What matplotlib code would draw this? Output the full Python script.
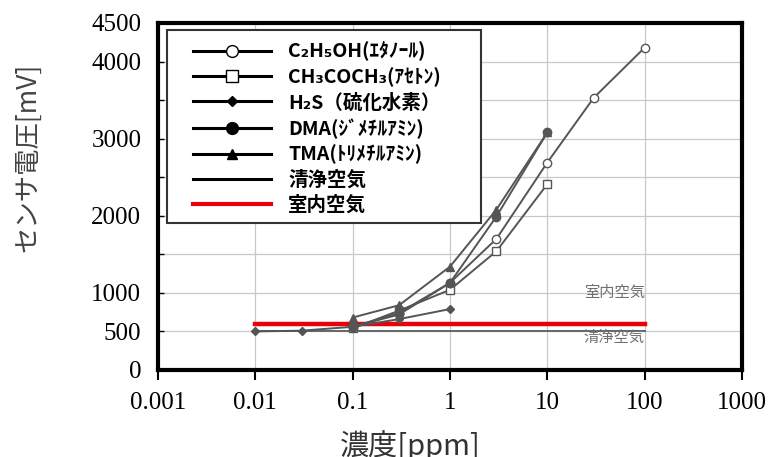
import matplotlib
matplotlib.use("Agg")
import matplotlib.pyplot as plt
from matplotlib.lines import Line2D
from matplotlib.patches import Rectangle

# ── Data ───────────────────────────────────────────────────────
ethanol_x = [0.1, 0.3, 1, 3, 10, 30, 100]
ethanol_y = [560, 720, 1130, 1700, 2690, 3530, 4180]

acetone_x = [0.1, 0.3, 1, 3, 10]
acetone_y = [540, 770, 1040, 1540, 2410]

h2s_x = [0.01, 0.03, 0.1, 0.3, 1]
h2s_y = [500, 510, 560, 660, 790]

dma_x = [0.1, 0.3, 1, 3, 10]
dma_y = [560, 740, 1130, 1990, 3080]

tma_x = [0.1, 0.3, 1, 3, 10]
tma_y = [680, 840, 1340, 2080, 3080]

air_x = [0.01, 100]
clean_air_y = [500, 500]
room_air_y = [600, 600]

labels = ["C₂H₅OH(ｴﾀﾉｰﾙ)", "CH₃COCH₃(ｱｾﾄﾝ)", "H₂S（硫化水素）",
          "DMA(ｼﾞﾒﾁﾙｱﾐﾝ)", "TMA(ﾄﾘﾒﾁﾙｱﾐﾝ)", "清浄空気", "室内空気"]

x_ticks = [0.001, 0.01, 0.1, 1, 10, 100, 1000]
x_ticklabels = ["0.001", "0.01", "0.1", "1", "10", "100", "1000"]
y_ticks = [0, 500, 1000, 2000, 3000, 4000, 4500]
y_minor = [1500, 2500, 3500]

JP = ["Noto Sans CJK JP", "DejaVu Sans"]
SERIF = "Liberation Serif"
GRAY = "#555555"
RED = "#e8000b"

fig = plt.figure(figsize=(7.74, 4.57), dpi=100)
ax = fig.add_axes([0.2041, 0.1904, 0.7545, 0.7593])

# ── Series ─────────────────────────────────────────────────────
ax.plot(air_x, clean_air_y, color="#666666", lw=1.4, zorder=2)
ax.plot(air_x, room_air_y, color=RED, lw=3.2, zorder=3)
ax.plot(h2s_x, h2s_y, color=GRAY, lw=1.4, marker="D", ms=4.5,
        mfc=GRAY, mec=GRAY, zorder=4)
ax.plot(acetone_x, acetone_y, color=GRAY, lw=1.4, marker="s", ms=6,
        mfc="white", mec=GRAY, zorder=4)
ax.plot(ethanol_x, ethanol_y, color=GRAY, lw=1.4, marker="o", ms=6,
        mfc="white", mec=GRAY, zorder=4)
ax.plot(dma_x, dma_y, color=GRAY, lw=1.4, marker="o", ms=6,
        mfc=GRAY, mec=GRAY, zorder=5)
ax.plot(tma_x, tma_y, color=GRAY, lw=1.4, marker="^", ms=6,
        mfc=GRAY, mec=GRAY, zorder=5)

ax.text(100, 1000, "室内空気", ha="right", va="center", fontsize=11,
        color="#707070", family=JP)
ax.text(100, 420, "清浄空気", ha="right", va="center", fontsize=11,
        color="#707070", family=JP)

# ── Axes ───────────────────────────────────────────────────────
ax.set_xscale("log")
ax.set_xlim(0.001, 1000)
ax.set_ylim(0, 4500)
ax.set_xticks(x_ticks)
ax.set_xticklabels(x_ticklabels, family=SERIF, fontsize=18)
ax.xaxis.set_minor_locator(matplotlib.ticker.NullLocator())
ax.set_yticks(y_ticks)
ax.set_yticklabels([str(v) for v in y_ticks], family=SERIF, fontsize=18)
ax.set_yticks(y_minor, minor=True)
ax.tick_params(axis="x", direction="out", length=7, width=1.5, pad=9)
ax.tick_params(axis="y", which="both", direction="in", length=4,
               width=1, pad=12)
ax.grid(True, which="both", color="#c8c8c8", lw=0.9)
ax.set_axisbelow(True)
for s in ax.spines.values():
    s.set_linewidth(3)

fig.text(0.036, 0.656, "センサ電圧[mV]", rotation=90, ha="center",
         va="center", fontsize=19, color="#444444", family=JP)
fig.text(0.53, 0.004, "濃度[ppm]", ha="center", va="baseline",
         fontsize=21, color="#333333", family=JP)

# ── Legend: fixed box + frameless legend (black proxies) ──────
ax.add_patch(Rectangle((0.0154, 0.424), 0.538, 0.556, transform=ax.transAxes,
                       facecolor="white", edgecolor="#333333", lw=1.5,
                       zorder=6))
handles = [
    Line2D([], [], color="black", lw=2.2, marker="o", ms=8.5, mfc="white", mec="black"),
    Line2D([], [], color="black", lw=2.2, marker="s", ms=9, mfc="white", mec="black"),
    Line2D([], [], color="black", lw=2.2, marker="D", ms=5, mfc="black", mec="black"),
    Line2D([], [], color="black", lw=2.2, marker="o", ms=8.5, mfc="black", mec="black"),
    Line2D([], [], color="black", lw=2.2, marker="^", ms=7, mfc="black", mec="black"),
    Line2D([], [], color="black", lw=2.2),
    Line2D([], [], color=RED, lw=3),
]
leg = ax.legend(handles, labels, loc="upper left", frameon=False,
                bbox_to_anchor=(0.0599, 0.947),
                prop={"family": JP, "size": 14, "weight": "bold"},
                handlelength=4.0, handletextpad=0.9, labelspacing=0.3,
                borderpad=0, borderaxespad=0)
leg.set_zorder(7)

fig.savefig("out.png", dpi=100)
